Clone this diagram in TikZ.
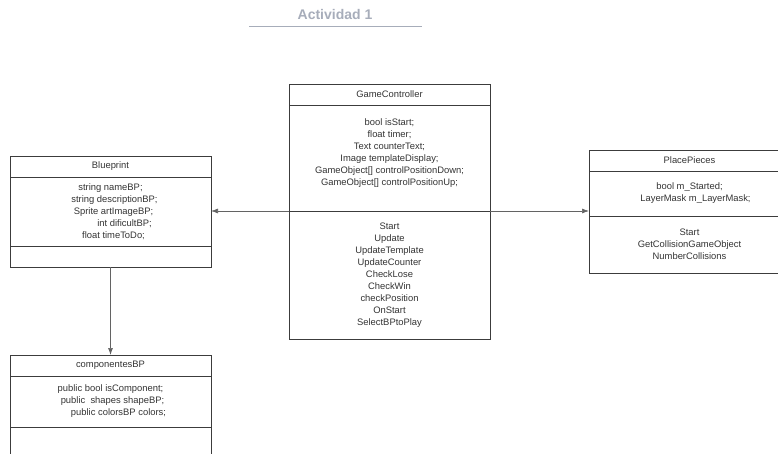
\documentclass[tikz,border=0pt]{standalone}
\usepackage{fontspec}
\setmainfont{Liberation Sans}
\usetikzlibrary{positioning,arrows.meta}

\definecolor{titlegray}{HTML}{A7ADBA}
\definecolor{boxline}{HTML}{3C3C3C}
\definecolor{txtgray}{HTML}{333333}

\begin{document}
\begin{tikzpicture}[>={Latex[length=7pt,width=5pt]}, x=1pt, y=-1pt,
    classhead/.style={draw=boxline, line width=0.8pt, outer sep=0pt, minimum width=201pt,
        minimum height=21pt, inner sep=0pt, text=txtgray, font=\fontsize{9.4}{12}\selectfont},
    classsect/.style={classhead, align=center},
    assoc/.style={->, draw=boxline!80, line width=0.7pt}]
    \useasboundingbox (0,0) rectangle (778,454);
    \clip (0,0) rectangle (778,454);

    % Title
    \node[text=titlegray, font=\bfseries\fontsize{14}{16}\selectfont] (title) at (335,15) {Actividad 1};
    \draw[titlegray, line width=0.8pt] (249,26) -- (422,26);

    % GameController
    \node[classhead, anchor=north west] (gc) at (289,84) {GameController};
    \node[classsect, minimum height=106pt, below=0pt of gc] (gc-attr)
        {bool isStart;\\ float timer;\\ Text counterText;\\ Image templateDisplay;\\
         GameObject[] controlPositionDown;\\ GameObject[] controlPositionUp;\\ \mbox{}};
    \node[classsect, minimum height=128pt, below=0pt of gc-attr] (gc-meth)
        {Start\\ Update\\ UpdateTemplate\\ UpdateCounter\\ CheckLose\\ CheckWin\\
         checkPosition\\ OnStart\\ SelectBPtoPlay};

    % Blueprint
    \node[classhead, anchor=north west] (bp) at (10,156) {Blueprint};
    \node[classsect, minimum height=69pt, below=0pt of bp] (bp-attr)
        {string nameBP;\\ \hspace*{8pt}string descriptionBP;\\ \hspace*{6pt}Sprite artImageBP;\\
         \hspace*{28pt}int dificultBP;\\ \hspace*{6pt}float timeToDo;};
    \node[classsect, minimum height=21pt, below=0pt of bp-attr] (bp-meth) {};

    % PlacePieces
    \node[classhead, anchor=north west] (pp) at (589,150) {PlacePieces};
    \node[classsect, minimum height=45pt, below=0pt of pp] (pp-attr)
        {bool m\_Started;\\ \hspace*{12pt}LayerMask m\_LayerMask;};
    \node[classsect, minimum height=57pt, below=0pt of pp-attr] (pp-meth)
        {Start\\ GetCollisionGameObject\\ NumberCollisions};

    % componentesBP
    \node[classhead, anchor=north west] (cbp) at (10,355) {componentesBP};
    \node[classsect, minimum height=51pt, below=0pt of cbp] (cbp-attr)
        {public bool isComponent;\\ \hspace*{4pt}public\ \ shapes shapeBP;\\
         \hspace*{16pt}public colorsBP colors;};
    \node[classsect, minimum height=40pt, below=0pt of cbp-attr] (cbp-meth) {};

    % Associations
    \draw[assoc] (gc-attr.south west) -- (gc-attr.south west -| bp-attr.east);
    \draw[assoc] (gc-attr.south east) -- (gc-attr.south east -| pp-attr.west);
    \draw[assoc] (bp-meth.south) -- (cbp.north);
\end{tikzpicture}
\end{document}
